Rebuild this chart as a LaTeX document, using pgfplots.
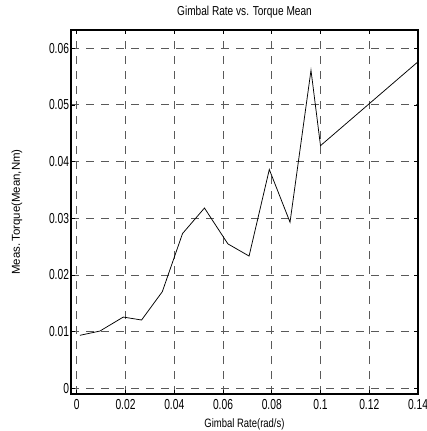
\documentclass[border=0pt]{standalone}
\usepackage{fontspec}
\setmainfont[FakeStretch=0.78]{Liberation Sans}
\newfontfamily\tickfont[FakeStretch=0.71]{Liberation Sans}
\newfontfamily\ylabfont{Liberation Sans}
\usepackage{pgfplots}
\pgfplotsset{compat=1.18}

\begin{document}
\begin{tikzpicture}
  \path[use as bounding box] (-71bp,-37bp) rectangle (356bp,394bp);
  \begin{axis}[
    at={(0,0)}, anchor=south west,
    scale only axis,
    width=347bp, height=364bp,
    xmin=-0.00235, xmax=0.14,
    ymin=-0.001, ymax=0.0632,
    xtick={0,0.02,...,0.14},
    ytick={0,0.01,...,0.06},
    scaled ticks=false,
    /pgf/number format/fixed,
    /pgf/number format/assume math mode=true,
    tick label style={font=\tickfont\fontsize{14.5}{16}\selectfont},
    title style={font=\fontsize{13}{15}\selectfont,
      at={(axis description cs:0.5,1)}, anchor=base, yshift=9bp},
    title={Gimbal Rate vs. Torque Mean},
    xlabel={Gimbal Rate(rad/s)},
    xlabel style={font=\fontsize{12.2}{14}\selectfont,
      at={(axis description cs:0.5,-0.0907)}, anchor=base},
    ylabel={\ylabfont\fontsize{11.5}{13}\selectfont Meas.\,Torque(Mean,Nm)},
    ylabel style={at={(axis description cs:-0.1556,0.5)}, anchor=center},
    xticklabel style={yshift=-1.5bp},
    yticklabel style={xshift=1.5bp},
    tick align=inside, tick pos=both,
    major tick length=4bp,
    tick style={black, line width=0.6bp},
    axis line style={black, line width=1.2bp},
    grid=major,
    major grid style={black!65, line width=0.8bp, dash pattern=on 8bp off 7bp},
    clip=false]
    \addplot[black, line width=0.75bp] coordinates {
      (0.0013,0.00935) (0.0095,0.0101) (0.0191,0.01257) (0.0266,0.01205)
      (0.0351,0.01704) (0.0434,0.0273) (0.0524,0.03180) (0.0620,0.02548)
      (0.0707,0.02333) (0.0790,0.0386) (0.0875,0.0293) (0.0961,0.0561)
      (0.1000,0.0428) (0.1400,0.0576)
    };
  \end{axis}
\end{tikzpicture}
\end{document}
